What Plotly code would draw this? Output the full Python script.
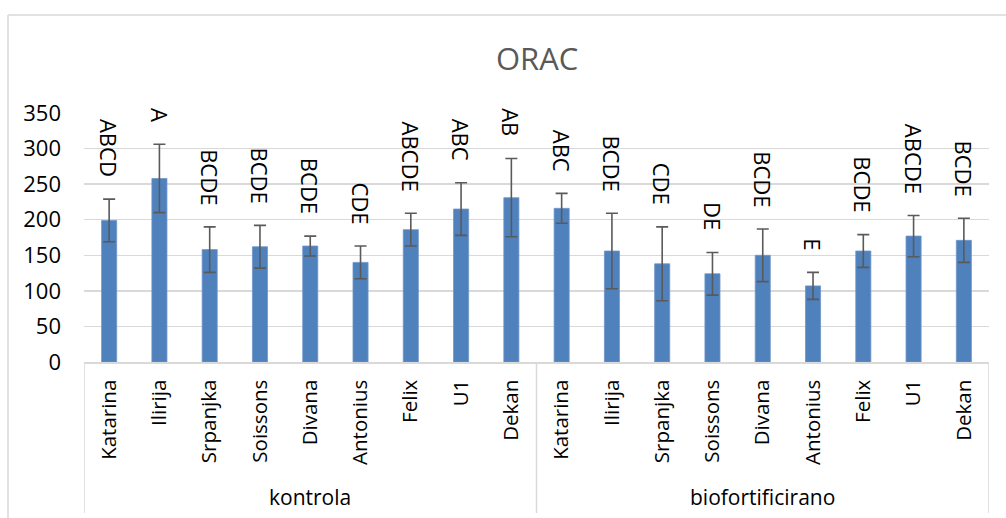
import plotly.graph_objects as go

# ---- data ----
varieties = ["Katarina", "Ilirija", "Srpanjka", "Soissons", "Divana",
             "Antonius", "Felix", "U1", "Dekan"]
groups = ["kontrola", "biofortificirano"]

kontrola_values = [199, 258, 158, 162, 163, 140, 186, 215, 231]
kontrola_err = [30, 48, 32, 30, 14, 23, 23, 37, 55]
kontrola_letters = ["ABCD", "A", "BCDE", "BCDE", "BCDE", "CDE", "ABCDE", "ABC", "AB"]

biofort_values = [216, 156, 138, 124, 150, 107, 156, 177, 171]
biofort_err = [21, 53, 52, 30, 37, 19, 23, 29, 31]
biofort_letters = ["ABC", "BCDE", "CDE", "DE", "BCDE", "E", "BCDE", "ABCDE", "BCDE"]

y_ticks = [0, 50, 100, 150, 200, 250, 300, 350]

# ---- build ----
values = kontrola_values + biofort_values
errs = kontrola_err + biofort_err
letters = kontrola_letters + biofort_letters
names = varieties + varieties
xs = list(range(len(values)))

FONT = "Open Sans"
W, H = 1006, 518
ML, MR, MT, MB = 84, 17, 113, 156
PW = W - ML - MR
PH = H - MT - MB
GRID = "#d9d9d9"

fig = go.Figure()
fig.add_trace(go.Bar(
    x=xs, y=values, width=0.3,
    marker=dict(color="#4f81bd", line=dict(color="#6f96c9", width=0.8)),
    error_y=dict(type="data", array=errs, visible=True,
                 color="#5a5a5a", thickness=1.6, width=6),
    hoverinfo="skip",
))

annotations = []
for x, v, e, t in zip(xs, values, errs, letters):
    annotations.append(dict(
        x=x, y=v + e, xref="x", yref="y", text=t, showarrow=False,
        textangle=90, yanchor="bottom", xanchor="center", yshift=20,
        font=dict(family=FONT, size=22, color="#000000"),
    ))

n = len(varieties)
for gi, g in enumerate(groups):
    annotations.append(dict(
        x=gi * n + (n - 1) / 2, y=0, xref="x", yref="paper", text=g,
        showarrow=False, yanchor="middle", yshift=-135,
        font=dict(family=FONT, size=21, color="#000000"),
    ))

annotations.append(dict(
    x=0.5, y=1, xref="paper", yref="paper", text="ORAC", showarrow=False,
    yanchor="middle", yshift=(MT - 58),
    font=dict(family=FONT, size=31, color="#595959"),
))

shapes = []
bottom_paper = -(513 - (H - MB)) / PH
for gi in range(len(groups) + 1):
    xb = gi * n - 0.5
    shapes.append(dict(type="line", xref="x", yref="paper",
                       x0=xb, x1=xb, y0=0, y1=bottom_paper,
                       line=dict(color=GRID, width=1.5)))

# outer chart border (left and top)
left_px, top_px = 8, 15
xl = (left_px - ML) / PW
yt = (H - MB - top_px) / PH
shapes.append(dict(type="line", xref="paper", yref="paper",
                   x0=xl, x1=xl, y0=-MB / PH - 0.1, y1=yt,
                   line=dict(color=GRID, width=1.5)))
shapes.append(dict(type="line", xref="paper", yref="paper",
                   x0=xl, x1=(W - ML) / PW + 0.1, y0=yt, y1=yt,
                   line=dict(color=GRID, width=1.5)))

fig.update_layout(
    width=W, height=H,
    margin=dict(l=ML, r=MR, t=MT, b=MB, pad=0),
    paper_bgcolor="white", plot_bgcolor="white",
    showlegend=False,
    font=dict(family=FONT, size=20, color="#000000"),
    annotations=annotations, shapes=shapes,
    xaxis=dict(
        range=[-0.5, len(values) - 0.5],
        tickvals=xs, ticktext=names, tickangle=-90,
        tickfont=dict(family=FONT, size=20.5, color="#000000"),
        showgrid=False, zeroline=False,
        showline=True, linecolor=GRID, linewidth=1.5,
        ticks="", ticklabelstandoff=8, fixedrange=True,
    ),
    yaxis=dict(
        range=[0, 350], tickvals=y_ticks,
        tickfont=dict(family=FONT, size=22, color="#000000"),
        showgrid=True, gridcolor=GRID, gridwidth=1.5,
        zeroline=False, showline=False, ticks="",
        ticklabelstandoff=22, fixedrange=True,
    ),
)

fig.write_html(
    "out.html",
    config={"displayModeBar": False, "staticPlot": True},
    post_script="document.body.style.margin='0';document.body.style.overflow='hidden';",
)
